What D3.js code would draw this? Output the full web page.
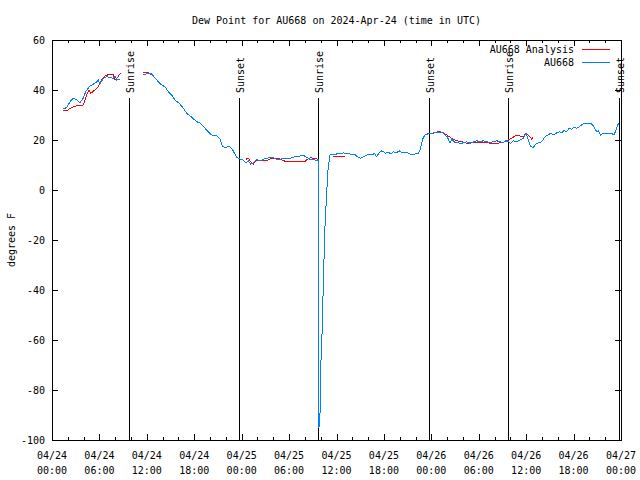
<!DOCTYPE html>
<html>
<head>
<meta charset="utf-8">
<script src="https://cdn.jsdelivr.net/npm/d3@7"></script>
<style>
  html, body { margin: 0; padding: 0; background: #fff; }
  text { font-family: "DejaVu Sans Mono", monospace; font-size: 10px; fill: #000; }
</style>
</head>
<body>
<svg id="chart" width="640" height="480"></svg>
<script>
// ---- Data (hours since 2024-04-24 00:00 UTC) ----
const title = "Dew Point for AU668 on 2024-Apr-24 (time in UTC)";
const yTitle = "degrees F";
const seriesNames = ["AU668 Analysis", "AU668"];

const obsHours = [1.35,1.86,2.28,2.70,3.13,3.54,3.96,4.26,4.81,5.23,5.66,5.86,6.07,6.49,6.92,7.34,7.76,7.97,8.19,8.60,
  null,
  11.55,12.19,12.62,12.82,13.45,13.88,14.30,14.72,15.15,15.56,16.11,16.61,17.04,17.68,18.31,18.73,19.36,19.78,20.21,20.84,21.26,21.60,22.02,22.43,22.87,23.37,23.79,
  24.21,24.55,24.84,25.14,25.47,25.90,26.32,26.74,27.17,27.59,28.00,28.43,28.85,29.27,29.70,30.12,30.53,30.96,31.38,31.80,32.23,32.65,33.06,33.57,33.72,
  33.78,33.91,34.04,34.20,34.35,34.54,34.73,34.92,35.18,35.47,35.81,36.15,36.44,36.86,37.16,37.49,37.92,38.25,38.55,38.76,39.10,39.39,39.82,40.24,40.53,40.78,
  41.09,41.29,41.63,41.92,42.22,42.55,42.90,43.19,43.62,43.91,44.25,44.67,45.08,45.51,45.93,46.35,46.56,46.78,46.98,47.20,47.61,48.05,48.46,48.88,49.18,49.51,
  49.73,50.02,50.36,50.58,50.78,51.12,51.41,51.63,52.04,52.47,52.89,53.31,53.74,54.16,54.58,55.01,55.42,55.84,56.27,56.69,57.11,57.45,57.74,58.04,58.37,58.80,
  59.22,59.64,59.98,60.27,60.57,60.91,61.33,61.66,61.96,62.38,62.80,63.10,63.43,63.77,64.19,64.49,64.78,65.13,65.46,65.76,66.05,66.39,66.72,67.02,67.32,67.86,
  68.29,68.58,68.92,69.13,69.43,69.68,70.19,70.82,71.11,71.37,71.58,71.78];
const obsValues = [32.3,33,35.3,36.7,36,35,36.7,39.3,41.6,42.3,43.3,44,42.4,44.7,45.3,45,44.7,45.6,44,44.3,
  null,
  46,46.7,46.4,45.6,43.3,42,41.3,39.3,38,36,34.7,32.7,30.7,29.1,27.3,26.9,24.7,23.3,22,21.6,20.3,17.3,17.1,17.6,16,13,12.4,
  12,10.7,11.7,10.4,10.9,12.3,11.7,12.3,12.7,13,13,12.3,12.3,12.7,12.5,12.7,13,13.6,13.6,14,13,12.3,12.3,11.7,12,
  -95,-90,-68,-55,-35,-15,-3,8,14,14.3,14,14.7,14.4,14.9,14.4,14.7,14,14.4,13.6,13.1,12.7,13.3,13.9,14.4,14,14.7,
  13.3,14.4,15.7,15.3,14.7,15.2,14.4,15.3,14.9,15.7,14.9,15.2,14.7,14,14.4,14.7,15.9,18.7,21,22,22.4,22.7,22.9,22.9,23.3,22.9,
  22,21.3,18.7,20.3,19.7,18.7,19.3,18.4,18.9,19.3,18.7,19.3,19.7,19.3,19.7,19.3,19.1,19.3,19.7,19.3,18.9,19.7,19.3,18.7,19.7,19.2,
  20,20.7,22.9,20,17.3,17.1,18.7,18.9,19.3,21.3,22,22.7,22,22.7,23.3,22.9,23.7,23.3,24.7,24.3,25.1,24.7,25.3,26,26.7,26.7,
  26.4,25.3,23.3,23.7,22,22.7,22.7,22.7,22,24,26,26.9];

const anaHours = [1.43,1.86,2.49,3.33,3.96,4.39,4.68,4.90,5.44,5.86,6.29,6.71,7.34,7.76,7.97,8.26,8.69,
  null,
  11.55,11.98,12.27,12.62,
  null,
  24.55,24.84,25.14,25.47,25.81,26.10,26.74,27.37,27.80,28.63,29.06,29.70,30.96,32.01,32.30,32.73,33.06,33.70,
  null,
  35.56,37.07,
  null,
  47.41,48.25,48.88,49.51,49.94,50.58,51.21,51.84,52.47,53.11,53.74,55.01,55.64,56.27,56.90,57.54,58.17,58.80,59.22,59.64,59.98,60.27,60.71,60.91];
const anaValues = [32,31.7,33,33.9,34,38,40,38.7,40,41.3,44,45.7,46.3,46.3,44,44.9,46.9,
  null,
  46.9,47,46.8,46,
  null,
  12.3,12.7,11.3,10.4,12,11.7,11.7,12,12.7,12.7,12,11.3,11.3,11.3,12.3,13,12.7,12.3,
  null,
  13.6,13.6,
  null,
  22.4,22.7,23.3,22.9,22,20.7,19.7,19.3,18.7,18.9,18.9,18.9,18.7,18.7,18.9,19.6,20.7,22,21.6,21.3,22.9,22,20.3,21.3];

const sunHours = [9.78, 23.70, 33.70, 47.74, 57.74, 71.81];
const sunLabels = ["Sunrise", "Sunset", "Sunrise", "Sunset", "Sunrise", "Sunset"];

const yTicks = [-100, -80, -60, -40, -20, 0, 20, 40, 60];

// ---- Layout ----
const svg = d3.select("#chart");
const L = 52, R = 621, T = 40, B = 440;
const t0 = Date.UTC(2024, 3, 24, 0, 0);
const toDate = h => new Date(t0 + h * 3600e3);

const x = d3.scaleUtc().domain([toDate(0), toDate(72)]).range([L, R]);
const y = d3.scaleLinear().domain([-100, 60]).range([B, T]);

const majorTicks = d3.range(0, 73, 6).map(toDate);
const minorTicks = d3.range(0, 73, 2).filter(h => h % 6 !== 0).map(toDate);

const axes = svg.append("g").attr("shape-rendering", "crispEdges");

// frame
axes.append("rect").attr("x", L).attr("y", T).attr("width", R - L).attr("height", B - T)
  .attr("fill", "none").attr("stroke", "#000");

// x ticks (bottom & top, inward)
[[majorTicks, 6], [minorTicks, 3]].forEach(([ticks, len]) => {
  ticks.forEach(d => {
    const px = Math.round(x(d)) + 0.5;
    axes.append("line").attr("x1", px).attr("x2", px).attr("y1", B).attr("y2", B - len).attr("stroke", "#000");
    axes.append("line").attr("x1", px).attr("x2", px).attr("y1", T).attr("y2", T + len).attr("stroke", "#000");
  });
});

// y ticks (left & right)
yTicks.forEach(v => {
  const py = Math.round(y(v)) + 0.5;
  axes.append("line").attr("x1", L).attr("x2", L + 6).attr("y1", py).attr("y2", py).attr("stroke", "#000");
  axes.append("line").attr("x1", R).attr("x2", R - 6).attr("y1", py).attr("y2", py).attr("stroke", "#000");
  svg.append("text").attr("x", 45).attr("y", y(v)).attr("text-anchor", "end")
    .attr("dominant-baseline", "central").text(v);
});

// x tick labels
const fmtD = d3.utcFormat("%m/%d"), fmtT = d3.utcFormat("%H:%M");
majorTicks.forEach(d => {
  svg.append("text").attr("x", x(d)).attr("y", 455).attr("text-anchor", "middle")
    .attr("dominant-baseline", "central").text(fmtD(d));
  svg.append("text").attr("x", x(d)).attr("y", 470).attr("text-anchor", "middle")
    .attr("dominant-baseline", "central").text(fmtT(d));
});

// titles
svg.append("text").attr("x", (L + R) / 2).attr("y", 20).attr("text-anchor", "middle")
  .attr("dominant-baseline", "central").text(title);
svg.append("text").attr("transform", `translate(11,${(T + B) / 2}) rotate(-90)`)
  .attr("text-anchor", "middle").attr("dominant-baseline", "central").text(yTitle);

// sunrise / sunset lines
sunHours.forEach((h, i) => {
  const px = Math.round(x(toDate(h))) + 0.5;
  axes.append("line").attr("x1", px).attr("x2", px).attr("y1", 98).attr("y2", B).attr("stroke", "#000");
  svg.append("text").attr("transform", `translate(${px + 1},93) rotate(-90)`)
    .attr("text-anchor", "start").attr("dominant-baseline", "central").text(sunLabels[i]);
});

// data lines
const line = d3.line()
  .defined(d => d[0] !== null && d[1] !== null)
  .x(d => x(toDate(d[0])))
  .y(d => y(d[1]));

const anaData = anaHours.map((h, i) => [h, anaValues[i]]);
const obsData = obsHours.map((h, i) => [h, obsValues[i]]);

svg.append("defs").append("clipPath").attr("id", "clip")
  .append("rect").attr("x", L).attr("y", T).attr("width", R - L).attr("height", B - T);

const plot = svg.append("g").attr("clip-path", "url(#clip)").attr("shape-rendering", "crispEdges");
plot.append("path").datum(anaData).attr("d", line).attr("fill", "none")
  .attr("stroke", "#ff0000").attr("stroke-width", 1);
plot.append("path").datum(obsData).attr("d", line).attr("fill", "none")
  .attr("stroke", "#0080ff").attr("stroke-width", 1);

// legend
const legColors = ["#ff0000", "#0080ff"];
seriesNames.forEach((name, i) => {
  const ly = 49 + i * 13;
  svg.append("text").attr("x", 574).attr("y", ly).attr("text-anchor", "end")
    .attr("dominant-baseline", "central").text(name);
  svg.append("line").attr("x1", 582).attr("x2", 610).attr("y1", ly + 0.5).attr("y2", ly + 0.5)
    .attr("stroke", legColors[i]).attr("shape-rendering", "crispEdges");
});
</script>
</body>
</html>
